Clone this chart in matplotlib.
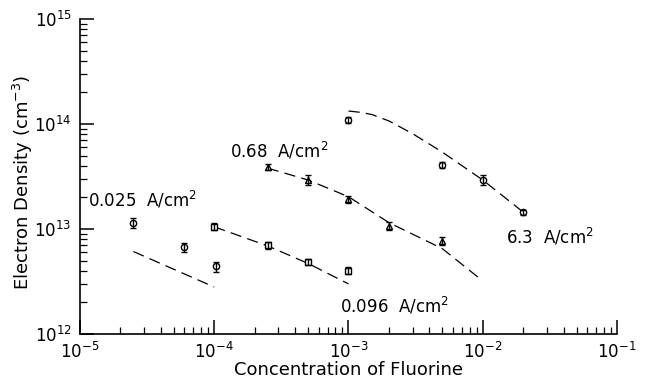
import numpy as np
import matplotlib
matplotlib.use("Agg")
import matplotlib.pyplot as plt
from matplotlib.ticker import LogLocator, NullFormatter

# medidas (pontos com barra de erro)
x_025 = [2.5e-5, 6e-5, 1.03e-4]
y_025 = [1.15e13, 6.7e12, 4.4e12]
e_025 = [0.12e13, 0.7e12, 0.5e12]

x_096 = [1.0e-4, 2.5e-4, 5e-4, 1e-3]
y_096 = [1.05e13, 7.0e12, 4.85e12, 4.0e12]
e_096 = [0.08e13, 0.5e12, 0.3e12, 0.3e12]

x_068 = [2.5e-4, 5e-4, 1e-3, 2e-3, 5e-3]
y_068 = [3.9e13, 2.95e13, 1.93e13, 1.07e13, 7.7e12]
e_068 = [0.25e13, 0.35e13, 0.15e13, 0.1e13, 0.7e12]

x_63 = [1e-3, 5e-3, 1e-2, 2e-2]
y_63 = [1.1e14, 4.1e13, 2.95e13, 1.44e13]
e_63 = [0.07e14, 0.25e13, 0.35e13, 0.08e13]

# curvas teoricas (tracejadas)
fx_025 = [2.5e-5, 1e-4]
fy_025 = [6.1e12, 2.8e12]
fx_096 = [1e-4, 2.5e-4, 5e-4, 1e-3]
fy_096 = [1.05e13, 6.9e12, 4.7e12, 3.0e12]
fx_068 = [2.5e-4, 5e-4, 1e-3, 2e-3, 5e-3, 1e-2]
fy_068 = [3.8e13, 2.93e13, 2.03e13, 1.15e13, 6.5e12, 3.2e12]
fx_63 = [1e-3, 1.25e-3, 1.5e-3, 2e-3, 3e-3, 5e-3, 1e-2, 2e-2]
fy_63 = [1.33e14, 1.29e14, 1.23e14, 1.07e14, 8.1e13, 5.4e13, 2.93e13, 1.45e13]

plt.rcParams['font.family'] = ['DejaVu Sans']
fig = plt.figure(figsize=(6.45, 3.85), dpi=100)
ax = fig.add_axes([0.124, 0.1325, 0.8326, 0.818])

dash = (0, (9, 5))
for fx, fy in [(fx_025, fy_025), (fx_096, fy_096), (fx_068, fy_068), (fx_63, fy_63)]:
    ax.plot(fx, fy, color='black', lw=0.9, linestyle=dash)

for x, y, e, m in [(x_025, y_025, e_025, 'o'), (x_096, y_096, e_096, 's'),
                   (x_068, y_068, e_068, '^'), (x_63, y_63, e_63, 'o')]:
    ax.plot(x, y, linestyle='none', marker=m, ms=4.5, mfc='white',
            mec='black', mew=1.0, zorder=3)
    ax.errorbar(x, y, yerr=e, fmt='none', ecolor='black', elinewidth=1.0,
                capsize=2.5, capthick=1.0, zorder=4)

ax.set_xscale('log')
ax.set_yscale('log')
ax.set_xlim(1e-5, 1e-1)
ax.set_ylim(1e12, 1e15)

for s in ['top', 'right']:
    ax.spines[s].set_visible(False)
for s in ['left', 'bottom']:
    ax.spines[s].set_linewidth(1.2)

ax.xaxis.set_major_locator(LogLocator(base=10, numticks=10))
ax.yaxis.set_major_locator(LogLocator(base=10, numticks=10))
ax.xaxis.set_minor_locator(LogLocator(base=10, subs=np.arange(2, 10), numticks=20))
ax.yaxis.set_minor_locator(LogLocator(base=10, subs=np.arange(2, 10), numticks=20))
ax.xaxis.set_minor_formatter(NullFormatter())
ax.yaxis.set_minor_formatter(NullFormatter())
ax.tick_params(which='major', direction='in', length=10, width=1.1, labelsize=12, pad=6)
ax.tick_params(which='minor', direction='in', length=5, width=0.9)
ax.tick_params(top=False, right=False, which='both')

ax.set_xlabel('Concentration of Fluorine', fontsize=13)
ax.set_ylabel('Electron Density (cm$^{-3}$)', fontsize=13)
ax.xaxis.set_label_coords(0.5, -0.086)
ax.yaxis.set_label_coords(-0.084, 0.48)

lab = dict(fontsize=12, color='black')
ax.text(1.15e-5, 1.9e13, '0.025  A/cm$^2$', va='center', ha='left', **lab)
ax.text(1.32e-4, 5.5e13, '0.68  A/cm$^2$', va='center', ha='left', **lab)
ax.text(8.6e-4, 1.85e12, '0.096  A/cm$^2$', va='center', ha='left', **lab)
ax.text(1.48e-2, 8.4e12, '6.3  A/cm$^2$', va='center', ha='left', **lab)

fig.savefig('out.png', dpi=100)
